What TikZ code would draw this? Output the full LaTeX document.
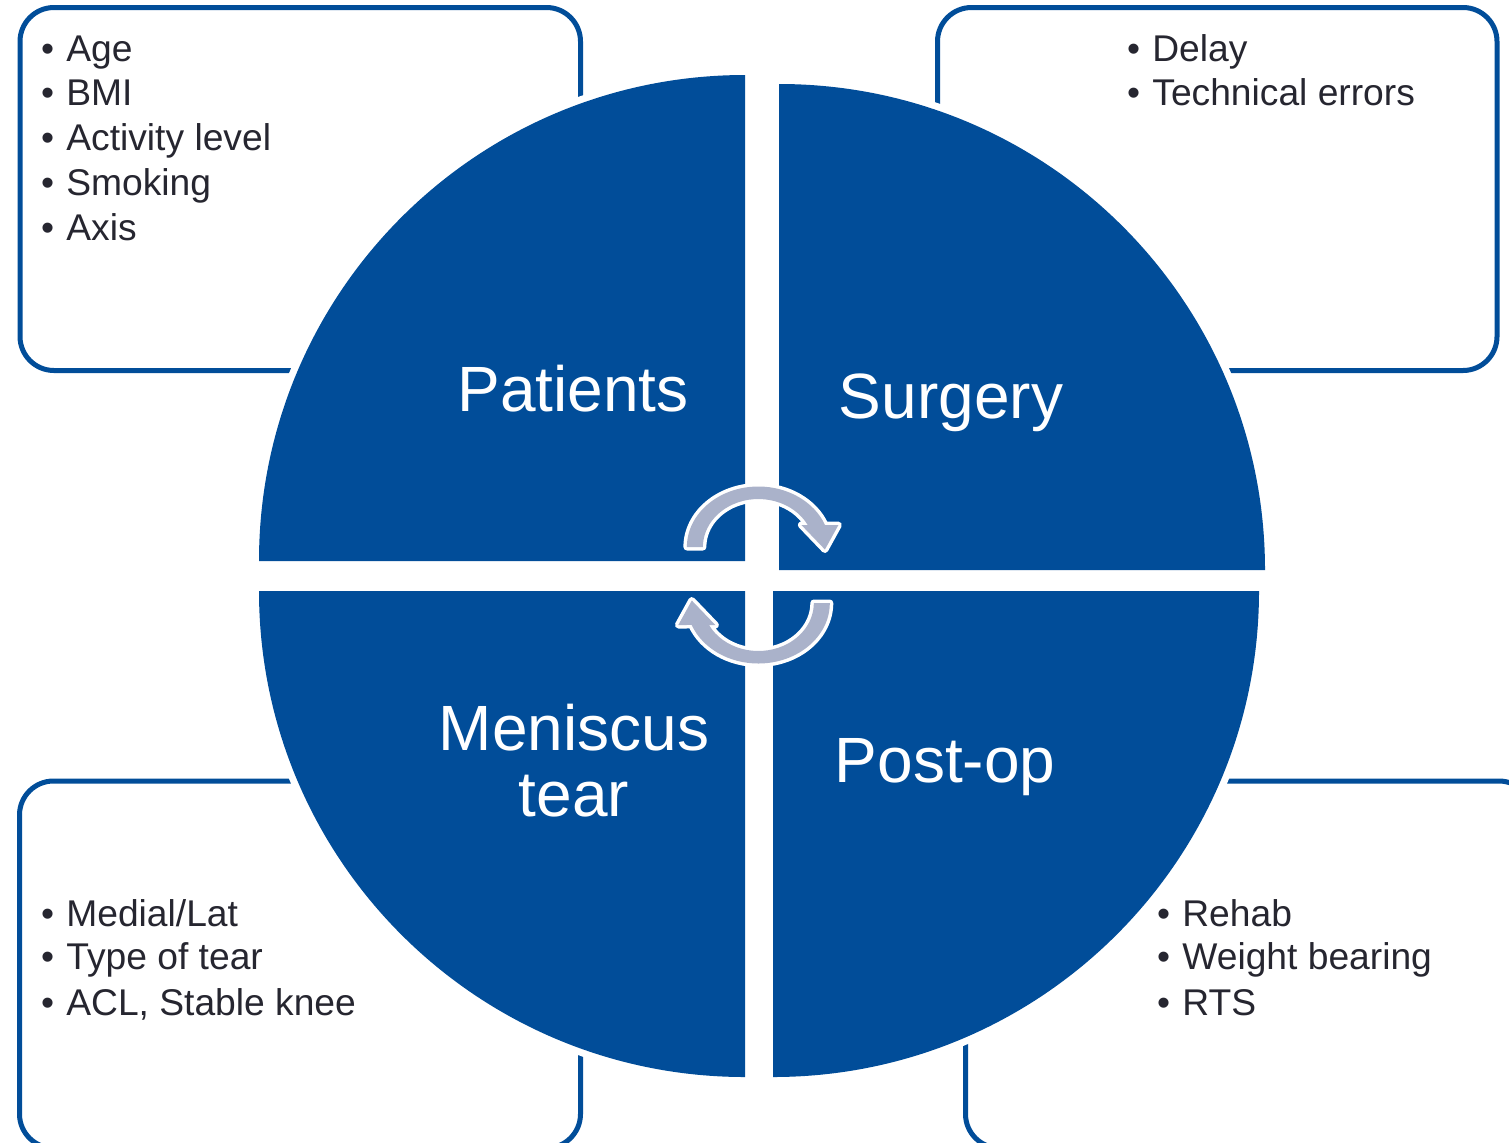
\documentclass[tikz,border=0pt]{standalone}
\usepackage{fontspec}
\setmainfont{Liberation Sans}
\definecolor{qblue}{RGB}{1,77,153}
\definecolor{arrowgray}{RGB}{170,178,202}
\definecolor{txtgray}{RGB}{38,38,48}
\newcommand\blt[1]{\makebox[12.7pt][l]{•}#1}
\tikzset{
  infobox/.style={draw=qblue, line width=2.5pt, rounded corners=17pt},
  sector/.style={fill=qblue, preaction={draw=white, line width=7pt}},
  cyclearrow/.style={fill=arrowgray, preaction={draw=white, line width=3.5pt, line join=round}},
  bullettxt/.style={anchor=base west, inner sep=0pt, text=txtgray, font=\fontsize{18.6}{22}\selectfont},
  biglabel/.style={anchor=base, inner sep=0pt, text=white, font=\fontsize{32}{33}\selectfont},
}
\begin{document}
\begin{tikzpicture}[x=0.5pt,y=-0.5pt]
\useasboundingbox (0,0) rectangle (1509,1142);
\clip (0,0) rectangle (1509,1142);
\fill[white] (0,0) rectangle (1509,1142);
% info boxes
\draw[infobox] (20,7.5) rectangle (580.5,370.5);
\draw[infobox] (937.5,7.5) rectangle (1497,370.5);
\draw[infobox] (19.5,781) rectangle (580.5,1148);
\draw[infobox] (965.5,781) rectangle (1533,1148);
% quadrants
\path[sector] (745,561) -- (259,561) arc[start angle=180, end angle=270, radius=486] -- cycle;
\path[sector] (779,570) -- (779,84) arc[start angle=270, end angle=360, radius=486] -- cycle;
\path[sector] (745,591) -- (745,1077) arc[start angle=90, end angle=180, radius=486] -- cycle;
\path[sector] (773,591) -- (1259,591) arc[start angle=0, end angle=90, radius=486] -- cycle;
% cycle arrows
\begin{scope}[shift={(758.4,547)}, yscale=-1]
\path[cyclearrow] (-71.5,0) arc[start angle=180, end angle=21.3, x radius=71.5, y radius=60.5]
  -- (80,22) -- (66.5,-2.5) -- (43,22) -- (49.3,22)
  arc[start angle=27.3, end angle=180, x radius=55.5, y radius=48] -- cycle;
\end{scope}
\begin{scope}[shift={(758.3,603)}, yscale=-1, rotate=180]
\path[cyclearrow] (-71.5,0) arc[start angle=180, end angle=21.3, x radius=71.5, y radius=60.5]
  -- (80,22) -- (66.5,-2.5) -- (43,22) -- (49.3,22)
  arc[start angle=27.3, end angle=180, x radius=55.5, y radius=48] -- cycle;
\end{scope}
% labels
\node[biglabel] (patients) at (573,411) {Patients};
\node[biglabel] (surgery) at (951,418) {Surgery};
\node[biglabel] (meniscus) at (574,750) {Meniscus};
\node[biglabel] (tear) at (574,816) {tear};
\node[biglabel] (postop) at (945,782.5) {Post-op};
% bullet texts
\node[bullettxt] (tl1) at (40.6,61.5) {\blt{Age}};
\node[bullettxt] (tl2) at (40.6,105) {\blt{BMI}};
\node[bullettxt] (tl3) at (40.6,150) {\blt{Activity level}};
\node[bullettxt] (tl4) at (40.6,195) {\blt{Smoking}};
\node[bullettxt] (tl5) at (40.6,240) {\blt{Axis}};
\node[bullettxt] (tr1) at (1126.6,61.5) {\blt{Delay}};
\node[bullettxt] (tr2) at (1126.6,105) {\blt{Technical errors}};
\node[bullettxt] (bl1) at (40.6,926.7) {\blt{Medial/Lat}};
\node[bullettxt] (bl2) at (40.6,969) {\blt{Type of tear}};
\node[bullettxt] (bl3) at (40.6,1015) {\blt{ACL, Stable knee}};
\node[bullettxt] (br1) at (1156.6,926.7) {\blt{Rehab}};
\node[bullettxt] (br2) at (1156.6,969) {\blt{Weight bearing}};
\node[bullettxt] (br3) at (1156.6,1015) {\blt{RTS}};
\end{tikzpicture}
\end{document}
